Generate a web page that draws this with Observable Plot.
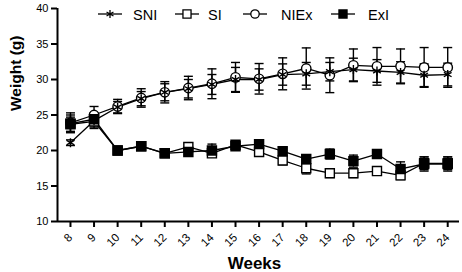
<!DOCTYPE html>
<html><head><meta charset="utf-8">
<script src="https://cdn.jsdelivr.net/npm/d3@7"></script>
<script src="https://cdn.jsdelivr.net/npm/@observablehq/plot@0.6"></script>
<style>
body{margin:0;background:#fff;}
#wrap{position:relative;width:462px;height:272px;font-family:"Liberation Sans",Arial,sans-serif;}
#legend{position:absolute;left:0;top:0;width:462px;height:30px;}
</style></head>
<body><div id="wrap"><div id="chart"></div><svg id="legend" width="462" height="30"></svg></div>
<script>
const weeks = [8,9,10,11,12,13,14,15,16,17,18,19,20,21,22,23,24];
const yTicks = [10,15,20,25,30,35,40];
const seriesNames = ["SNI","SI","NIEx","ExI"];
const SNI    = [21.1,24.2,26.1,27.3,28.2,28.7,29.3,30.0,30.0,30.7,30.8,31.1,31.4,31.2,31.0,30.6,30.7];
const SNI_sd = [0.4,0.9,0.8,1.0,1.2,1.3,1.4,1.7,1.5,1.5,1.6,1.3,1.6,1.6,1.5,1.6,1.6];
const SI     = [23.7,24.1,20.0,20.6,19.6,20.5,19.6,20.8,19.8,18.6,17.5,16.8,16.8,17.1,16.5,18.2,18.2];
const SI_sd  = [1.0,1.0,0.4,0.4,0.4,0.5,0.5,0.5,0.6,0.6,0.8,0.6,0.6,0.4,0.6,0.9,0.9];
const NIEx   = [23.9,25.0,26.2,27.4,28.2,28.8,29.4,30.3,30.1,30.8,31.55,30.6,32.0,31.85,31.85,31.7,31.7];
const NIEx_sd= [1.4,1.2,1.0,1.3,1.5,1.65,2.1,2.1,2.15,2.25,2.9,2.45,2.3,2.65,2.45,2.8,2.8];
const ExI    = [23.8,24.4,20.0,20.6,19.6,19.8,20.0,20.6,20.9,19.9,18.8,19.5,18.5,19.5,17.4,18.1,18.1];
const ExI_sd = [1.2,0.9,0.4,0.4,0.4,0.4,0.9,0.5,0.5,0.5,0.6,0.7,0.85,0.5,1.0,1.0,1.0];

const xDomain = [7.45, 24.5];
const yDomain = [10, 40];

const means = {SNI, SI, NIEx, ExI};
const sds = {SNI: SNI_sd, SI: SI_sd, NIEx: NIEx_sd, ExI: ExI_sd};
const style = {
  SNI:  {symbol: "asterisk", fill: "none", r: 4.2},
  SI:   {symbol: "square", fill: "white", r: 5.1},
  NIEx: {symbol: "circle", fill: "white", r: 4.7},
  ExI:  {symbol: "square", fill: "black", r: 5.1}
};
const drawOrder = ["SI","NIEx","SNI","ExI"];
const table = seriesNames.flatMap(s => weeks.map((w,i) => ({series:s, week:w, mean:means[s][i], sd:sds[s][i]})));

const capSymbol = {draw(ctx){ ctx.moveTo(-4.5,0); ctx.lineTo(4.5,0); }};

const marks = [];
for (const s of drawOrder) {
  const d = table.filter(t => t.series === s);
  marks.push(Plot.ruleX(d, {x:"week", y1: t=>t.mean-t.sd, y2: t=>t.mean+t.sd, stroke:"black", strokeWidth:1.4}));
  marks.push(Plot.dot(d, {x:"week", y: t=>t.mean+t.sd, symbol: capSymbol, stroke:"black", strokeWidth:1.4, fill:"none"}));
  marks.push(Plot.dot(d, {x:"week", y: t=>t.mean-t.sd, symbol: capSymbol, stroke:"black", strokeWidth:1.4, fill:"none"}));
}
for (const s of drawOrder) {
  const d = table.filter(t => t.series === s);
  marks.push(Plot.line(d, {x:"week", y:"mean", stroke:"black", strokeWidth:1.3}));
}
for (const s of drawOrder) {
  const d = table.filter(t => t.series === s);
  const st = style[s];
  marks.push(Plot.dot(d, {x:"week", y:"mean", symbol: st.symbol, r: st.r, fill: st.fill, stroke:"black", strokeWidth:1.4}));
}

const chart = Plot.plot({
  width: 462, height: 272,
  marginTop: 8, marginBottom: 51, marginLeft: 57, marginRight: 3,
  x: {domain: xDomain},
  y: {domain: yDomain},
  style: {fontFamily: "'Liberation Sans', Arial, sans-serif", fontSize: "11px", color: "black", background: "white", overflow: "visible"},
  marks: [
    Plot.axisY({ticks: yTicks, tickSize: 6, tickPadding: 3, strokeWidth: 2, label: null, fontSize: 11}),
    Plot.axisX({ticks: weeks, tickSize: 6, tickPadding: 8, tickRotate: -45, strokeWidth: 2, label: null, fontSize: 11.5}),
    Plot.ruleY([yDomain[0]], {strokeWidth: 2, stroke: "black"}),
    Plot.ruleX([xDomain[0]], {strokeWidth: 2, stroke: "black"}),
    ...marks,
    Plot.text(["Weeks"], {frameAnchor: "bottom", dx: -4, dy: 47, lineAnchor: "bottom", fontWeight: "bold", fontSize: 17}),
    Plot.text(["Weight (g)"], {frameAnchor: "left", rotate: -90, dx: -41, dy: -4, fontWeight: "bold", fontSize: 15.5})
  ]
});
document.getElementById("chart").appendChild(chart);

// legend
const legend = d3.select("#legend");
const legendItems = [
  {name: "SNI", cx: 110, tx: 133},
  {name: "SI", cx: 187, tx: 208},
  {name: "NIEx", cx: 255, tx: 281},
  {name: "ExI", cx: 343, tx: 368}
];
const symMap = {asterisk: d3.symbolAsterisk, square: d3.symbolSquare, circle: d3.symbolCircle};
for (const it of legendItems) {
  const st = style[it.name];
  const g = legend.append("g").attr("transform", `translate(${it.cx},14)`);
  g.append("line").attr("x1", -12).attr("x2", 12).attr("stroke", "black").attr("stroke-width", 1.3);
  g.append("path").attr("d", d3.symbol(symMap[st.symbol], Math.PI * st.r * st.r * 0.8)())
    .attr("fill", st.fill).attr("stroke", "black").attr("stroke-width", 1.3);
  legend.append("text").attr("x", it.tx).attr("y", 19.5).attr("font-size", 14.5)
    .attr("font-family", "'Liberation Sans', Arial, sans-serif").text(it.name);
}
</script></body></html>
